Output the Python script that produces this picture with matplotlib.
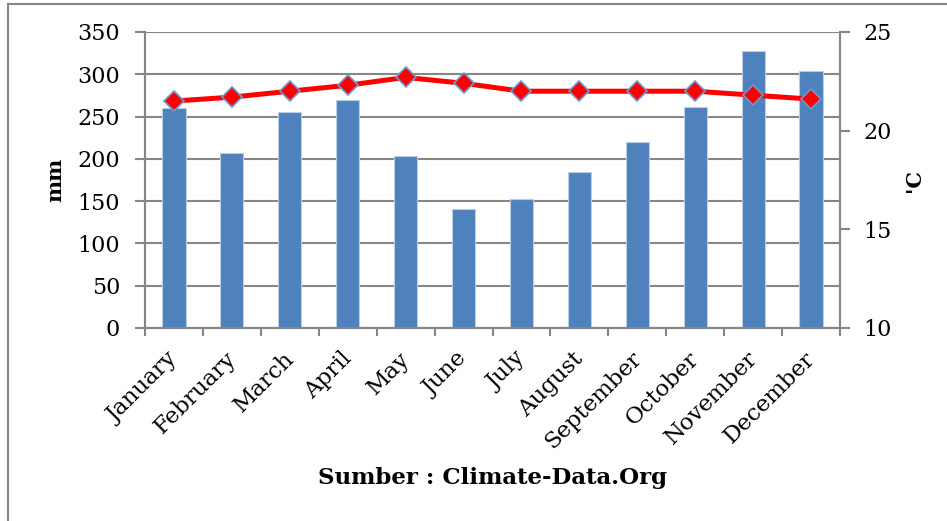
import matplotlib.pyplot as plt
import matplotlib.lines as mlines
import matplotlib.transforms as mtransforms
import numpy as np

# data
months = ["January", "February", "March", "April", "May", "June", "July",
          "August", "September", "October", "November", "December"]
rain_mm = [260, 207, 255, 270, 203, 141, 152, 184, 220, 261, 327, 304]
temp_c = [21.5, 21.7, 22.0, 22.3, 22.7, 22.4, 22.0, 22.0, 22.0, 22.0, 21.8, 21.6]

plt.rcParams["font.family"] = "DejaVu Serif"
gridc = "#868686"

fig = plt.figure(figsize=(9.47, 5.21), dpi=100)
ax = fig.add_axes([145/947, 1-328/521, 695/947, 296/521])
ax2 = ax.twinx()

x = np.arange(len(months))
ax.bar(x, rain_mm, width=0.4, color="#4F81BD", edgecolor="#B9CDE5", linewidth=0.8, zorder=3)
ax.set_xlim(-0.5, 11.5)
ax.set_ylim(0, 350)
ax.set_yticks(np.arange(0, 351, 50))
ax.grid(axis="y", color=gridc, linewidth=1.5, zorder=0)
ax.set_axisbelow(True)

ax2.plot(x, temp_c, color="#FF0000", linewidth=3.6, marker="D", markersize=10.5,
         markerfacecolor="#FF0000", markeredgecolor="#6A9BD0", markeredgewidth=1.2, zorder=5)
ax2.set_ylim(10, 25)
ax2.set_yticks([10, 15, 20, 25])

# category ticks at boundaries, labels at centres
ax.set_xticks(x)
ax.set_xticklabels(months, rotation=45, ha="right", rotation_mode="anchor", fontsize=16.5)
ax.tick_params(axis="x", which="major", length=0, pad=9)
shift = mtransforms.ScaledTranslation(-7/100, -7/100, fig.dpi_scale_trans)
for lbl in ax.get_xticklabels():
    lbl.set_transform(lbl.get_transform() + shift)
ax.set_xticks(np.arange(-0.5, 12, 1), minor=True)
ax.tick_params(axis="x", which="minor", length=6, width=1.5, color=gridc)
ax.tick_params(axis="y", length=7, width=1.5, color=gridc, labelsize=16, pad=11)
ax2.tick_params(axis="y", length=7, width=1.5, color=gridc, labelsize=16, pad=10)

for a in (ax, ax2):
    a.spines["top"].set_visible(False)
    for s in ("left", "right", "bottom"):
        a.spines[s].set_color(gridc)
        a.spines[s].set_linewidth(1.5)

ax.set_ylabel("mm", fontsize=15, fontweight="bold")
ax.yaxis.set_label_coords(-0.115, 0.5)
ax2.set_ylabel("'C", fontsize=15, fontweight="bold", rotation=90)
ax2.yaxis.set_label_coords(1.092, 0.5)
fig.text(492/947, 1-478/521, "Sumber : Climate-Data.Org", ha="center", va="center",
         fontsize=16.5, fontweight="bold")

# outer chart frame (left and top edges visible)
fig.add_artist(mlines.Line2D([8/947, 8/947], [0, 1-4/521], color=gridc, linewidth=1.5))
fig.add_artist(mlines.Line2D([8/947, 1], [1-4/521, 1-4/521], color=gridc, linewidth=1.5))

fig.savefig("out.png", dpi=100)
